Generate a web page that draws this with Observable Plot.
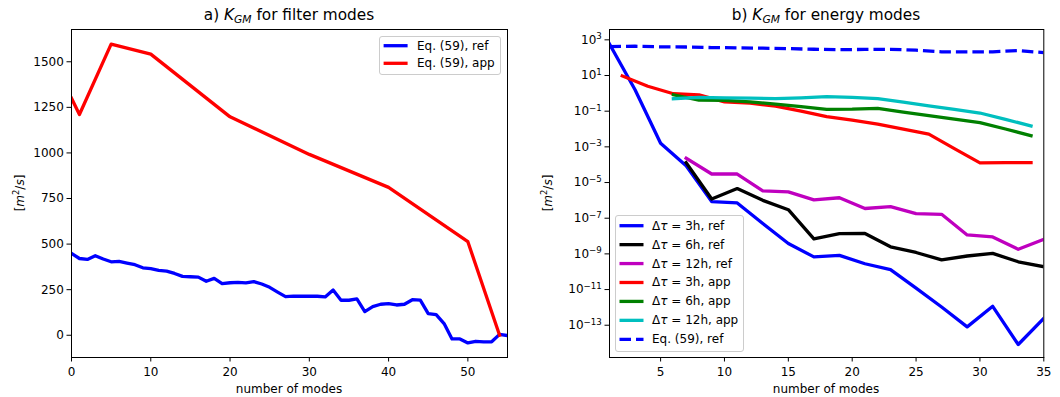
<!DOCTYPE html>
<html><head><meta charset="utf-8">
<script src="https://cdn.jsdelivr.net/npm/d3@7"></script>
<script src="https://cdn.jsdelivr.net/npm/@observablehq/plot@0.6"></script>
<style>
body{margin:0;background:#fff;font-family:"DejaVu Sans",sans-serif;}
#wrap{position:relative;width:1060px;height:397px;overflow:hidden;background:#fff;}
#wrap > svg{position:absolute;top:0;}
.t{position:absolute;white-space:nowrap;color:#000;line-height:1;transform:translate(-50%,-50%);}
.lt{position:absolute;white-space:nowrap;color:#000;line-height:1;transform:translateY(-50%);font-size:12px;}
.box{position:absolute;border:1px solid #cccccc;border-radius:3px;background:rgba(255,255,255,0.8);box-sizing:border-box;}
.sub{font-size:0.7em;position:relative;top:0.3em;}
</style></head><body><div id="wrap"></div>
<script>
// ---------- Panel a: K_GM for filter modes ----------
const modesA = [0,1,2,3,4,5,6,7,8,9,10,11,12,13,14,15,16,17,18,19,20,21,22,23,24,25,26,27,28,29,30,31,32,33,34,35,36,37,38,39,40,41,42,43,44,45,46,47,48,49,50,51,52,53,54,55];
const eq59RefA = [449,421,416,436,418,403,405,396,387,370,365,356,352,339,323,321,319,296,312,283,288,290,287,294,281,263,237,212,215,214,214,214,210,248,192,192,199,130,157,170,173,166,170,195,193,119,113,64,-20,-20,-42,-33,-36,-36,5,-2];
const modesAppA = [0,1,5,10,20,30,40,50,54];
const eq59AppA = [1300,1211,1597,1542,1198,992,811,513,0];
const ticksAX = [0,10,20,30,40,50];
const ticksAY = [0,250,500,750,1000,1250,1500];

// ---------- Panel b: K_GM for energy modes ----------
const refModes = [1,3,5,7,9,11,13,15,17,19,21,23,25,27,29,31,33,35];
const ref3h = [5.8e2,1.6e0,1.6e-3,8.7e-5,8.5e-7,7.2e-7,5.0e-8,3.8e-9,6.8e-10,8.3e-10,2.8e-10,1.3e-10,1.2e-11,1.05e-12,8.1e-14,1.15e-12,8.3e-15,2.4e-13];
const refModes2 = [7,9,11,13,15,17,19,21,23,25,27,29,31,33,35];
const ref6h = [1.3e-4,1.2e-6,4.6e-6,1.0e-6,3.0e-7,6.9e-9,1.35e-8,1.4e-8,2.5e-9,1.2e-9,4.6e-10,7.6e-10,1.07e-9,3.6e-10,1.9e-10];
const ref12h = [2.3e-4,3.0e-5,3.0e-5,3.4e-6,3.0e-6,1.07e-6,1.4e-6,3.5e-7,4.5e-7,1.8e-7,1.65e-7,1.15e-8,8.9e-9,1.8e-9,6.6e-9];
const appModes = [2,4,6,8,10,12,14,16,18,20,22,24,26,28,30,32,34];
const app3h = [9.5,2.5,0.95,0.83,0.33,0.28,0.19,0.10,0.050,0.032,0.019,0.010,0.0052,7.9e-4,1.26e-4,1.29e-4,1.32e-4];
const appModes2 = [6,8,10,12,14,16,18,20,22,24,26,28,30,32,34];
const app6h = [0.83,0.42,0.40,0.33,0.25,0.18,0.126,0.13,0.145,0.089,0.056,0.036,0.023,0.010,0.0042];
const app12h = [0.50,0.60,0.56,0.54,0.50,0.56,0.66,0.60,0.50,0.32,0.20,0.126,0.079,0.035,0.0148];
const eq59RefB = [421,436,403,396,370,356,339,321,296,283,290,294,263,212,214,214,248,192];
const ticksBX = [5,10,15,20,25,30,35];
const ticksBY = [1e3,1e1,1e-1,1e-3,1e-5,1e-7,1e-9,1e-11,1e-13];

const zip = (xs, ys) => xs.map((x, i) => ({x, y: ys[i]}));
const LW = 3.3;
const solid = (data, color) => Plot.line(data, {x: "x", y: "y", stroke: color, strokeWidth: LW, strokeLinejoin: "round", strokeLinecap: "square", clip: true});

const wrap = document.getElementById("wrap");
const style = {fontFamily: "DejaVu Sans", fontSize: "12px", background: "transparent", color: "#000", overflow: "visible"};

const plotA = Plot.plot({
  width: 530, height: 397,
  marginLeft: 71, marginRight: 23, marginTop: 29, marginBottom: 40,
  style,
  x: {domain: [0, 55]},
  y: {domain: [-122, 1677]},
  marks: [
    solid(zip(modesA, eq59RefA), "#0000ff"),
    solid(zip(modesAppA, eq59AppA), "#ff0000"),
    Plot.frame({stroke: "#000", strokeWidth: 1}),
    Plot.axisX({ticks: ticksAX, tickSize: 4.5, tickPadding: 5, label: null, tickFormat: d => String(d)}),
    Plot.axisY({ticks: ticksAY, tickSize: 4.5, tickPadding: 3.2, label: null, tickFormat: d => String(d)})
  ]
});
plotA.style.left = "0px";
wrap.appendChild(plotA);

const plotB = Plot.plot({
  width: 530, height: 397,
  marginLeft: 79, marginRight: 16.7, marginTop: 29, marginBottom: 40,
  style,
  x: {domain: [1, 35]},
  y: {type: "log", domain: [1.55e-15, 3.8e3]},
  marks: [
    solid(zip(refModes, ref3h), "#0000ff"),
    solid(zip(refModes2, ref6h), "#000000"),
    solid(zip(refModes2, ref12h), "#bf00bf"),
    solid(zip(appModes, app3h), "#ff0000"),
    solid(zip(appModes2, app6h), "#008000"),
    solid(zip(appModes2, app12h), "#00bfbf"),
    Plot.line(zip(refModes, eq59RefB), {x: "x", y: "y", stroke: "#0000ff", strokeWidth: LW, strokeDasharray: "11.5,5", strokeLinecap: "butt", strokeLinejoin: "round", clip: true}),
    Plot.frame({stroke: "#000", strokeWidth: 1}),
    Plot.axisX({ticks: ticksBX, tickSize: 4.5, tickPadding: 5, label: null, tickFormat: d => String(d)}),
    Plot.axisY({ticks: ticksBY, tickSize: 4.5, tickPadding: 3.2, label: null, tickFormat: d => "10^" + Math.round(Math.log10(d))})
  ]
});
plotB.style.left = "530px";
wrap.appendChild(plotB);

// superscript exponents on log axis
d3.select(plotB).selectAll('g[aria-label="y-axis tick label"] text').each(function() {
  const t = this.textContent;
  if (t.startsWith("10^")) {
    const e = t.slice(3).replace("-", "\u2212");
    this.textContent = "10";
    d3.select(this).append("tspan").attr("dy", "-0.5em").attr("font-size", "0.72em").text(e);
  }
});

// ---------- HTML text overlays ----------
function addText(html, x, y, size, cls = "t", extra = "") {
  const d = document.createElement("div");
  d.className = cls;
  d.style.left = x + "px"; d.style.top = y + "px";
  if (size) d.style.fontSize = size + "px";
  if (extra) d.style.cssText += extra;
  d.innerHTML = html;
  wrap.appendChild(d);
  return d;
}
const KGM = '<i>K</i><span class="sub"><i>GM</i></span>';
addText("a) " + KGM + " for filter modes", 289, 16, 15.3);
addText("b) " + KGM + " for energy modes", 826, 16, 15.3);
addText("number of modes", 289, 389, 12);
addText("number of modes", 826, 389, 12);
const ylab = '[<i>m</i><sup style="font-size:0.7em">2</sup>/<i>s</i>]';
addText(ylab, 18.5, 193, 12, "t", "transform:translate(-50%,-50%) rotate(-90deg);");
addText(ylab, 547, 193, 12, "t", "transform:translate(-50%,-50%) rotate(-90deg);");

function legend(box, rows, x0, x1, xt) {
  const b = document.createElement("div");
  b.className = "box";
  b.style.left = box[0] + "px"; b.style.top = box[1] + "px";
  b.style.width = box[2] + "px"; b.style.height = box[3] + "px";
  wrap.appendChild(b);
  const ns = "http://www.w3.org/2000/svg";
  const s = document.createElementNS(ns, "svg");
  s.setAttribute("width", 1060); s.setAttribute("height", 397);
  s.style.position = "absolute"; s.style.left = "0px"; s.style.top = "0px";
  rows.forEach(r => {
    const l = document.createElementNS(ns, "line");
    l.setAttribute("x1", x0); l.setAttribute("x2", x1);
    l.setAttribute("y1", r.y); l.setAttribute("y2", r.y);
    l.setAttribute("stroke", r.color); l.setAttribute("stroke-width", LW);
    if (r.dash) l.setAttribute("stroke-dasharray", "11.5,5");
    s.appendChild(l);
    addText(r.label, xt, r.y, 12, "lt");
  });
  wrap.appendChild(s);
}
const labelsA = ["Eq. (59), ref", "Eq. (59), app"];
legend([378.5, 35.5, 122.5, 39.5], [
  {label: labelsA[0], color: "#0000ff", y: 45.7},
  {label: labelsA[1], color: "#ff0000", y: 63.3}
], 383.6, 407.6, 417);

const dt = v => 'Δ<i>τ</i> = ' + v;
const labelsB = [dt("3h, ref"), dt("6h, ref"), dt("12h, ref"), dt("3h, app"), dt("6h, app"), dt("12h, app"), "Eq. (59), ref"];
const colorsB = ["#0000ff", "#000000", "#bf00bf", "#ff0000", "#008000", "#00bfbf", "#0000ff"];
legend([615, 215, 128.5, 136.5], labelsB.map((label, i) => ({label, color: colorsB[i], y: 225.7 + i * 18.93, dash: i === 6})), 619.5, 643.5, 652);
</script></body></html>
